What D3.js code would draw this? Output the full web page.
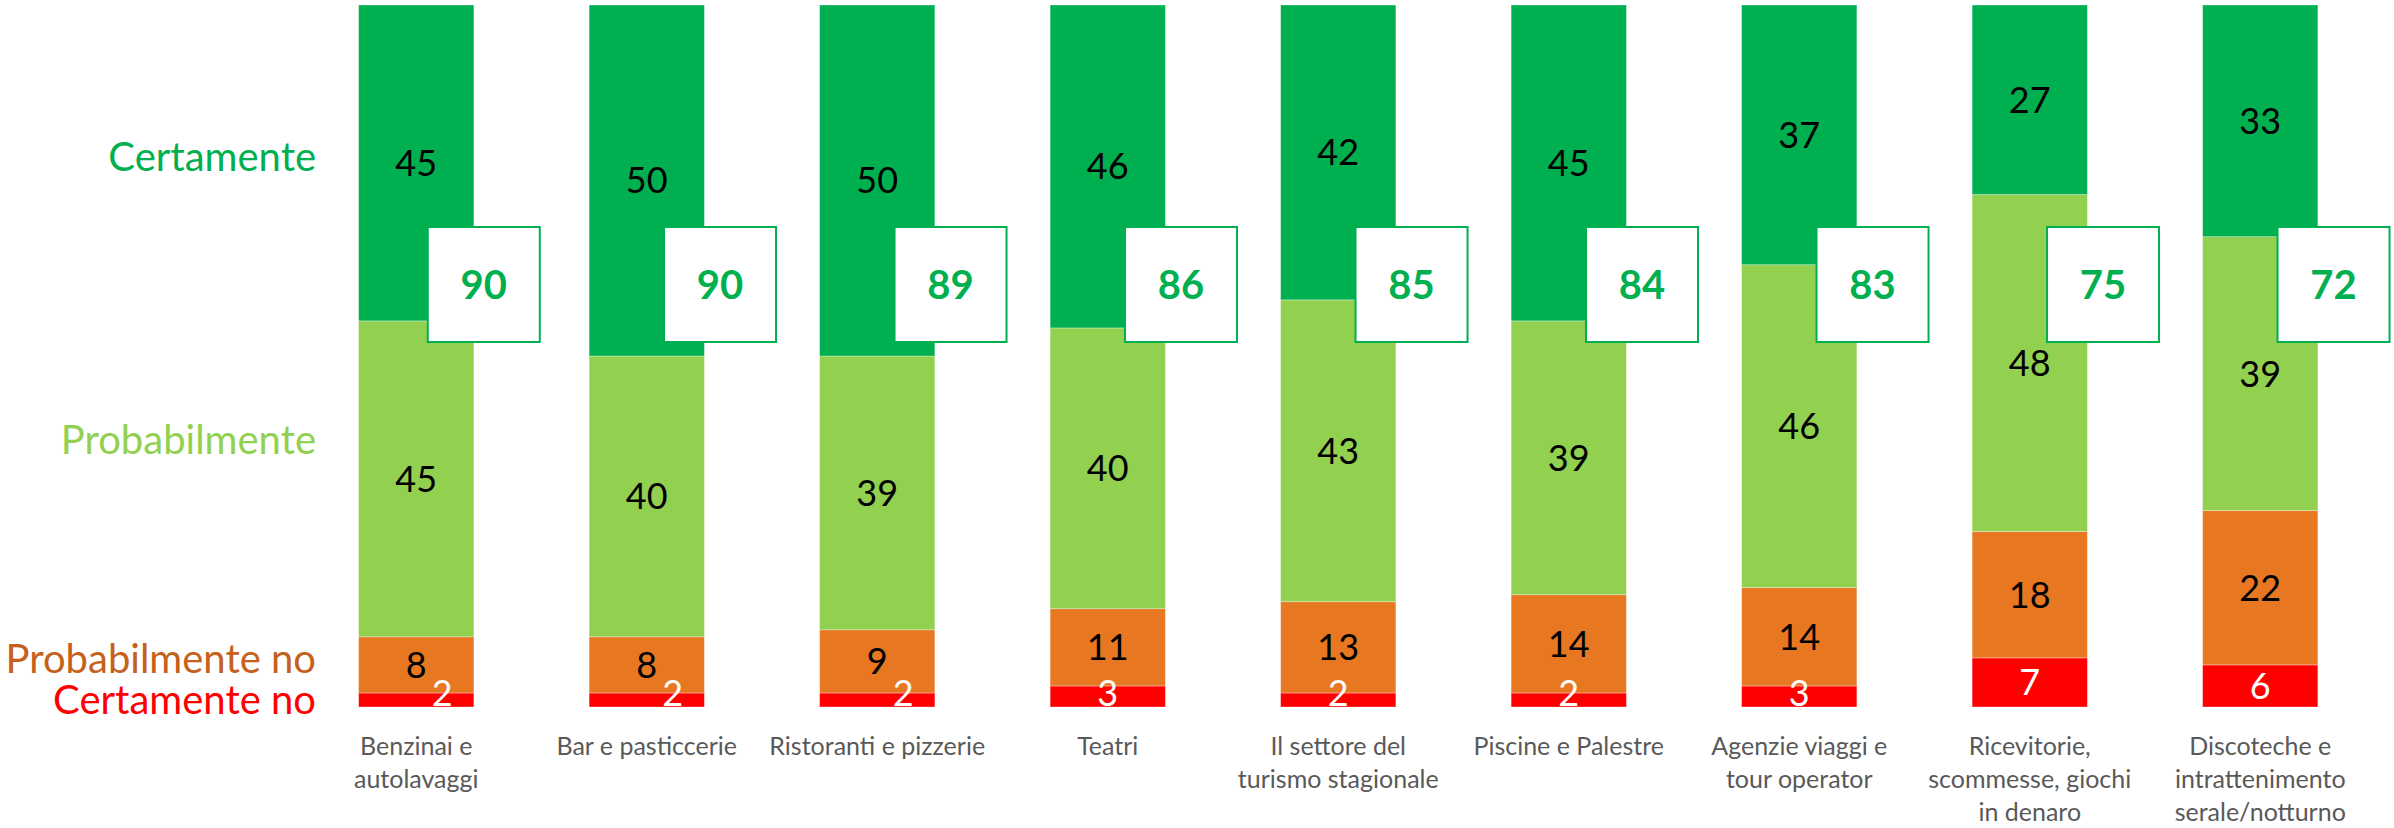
<!DOCTYPE html>
<html>
<head>
<meta charset="utf-8">
<script src="https://cdn.jsdelivr.net/npm/d3@7"></script>
<style>
  html, body { margin: 0; padding: 0; background: #ffffff; }
  svg { display: block; }
</style>
</head>
<body>
<div id="chart"></div>
<script>
// categorie (a capo con \n)
var categories = [
    'Benzinai e\nautolavaggi',
    'Bar e pasticcerie',
    'Ristoranti e pizzerie',
    'Teatri',
    'Il settore del\nturismo stagionale',
    'Piscine e Palestre',
    'Agenzie viaggi e\ntour operator',
    'Ricevitorie,\nscommesse, giochi\nin denaro',
    'Discoteche e\nintrattenimento\nserale/notturno'
];
var seriesNames = ['Certamente no', 'Probabilmente no', 'Probabilmente', 'Certamente'];
var certamenteNo     = [2, 2, 2, 3, 2, 2, 3, 7, 6];
var probabilmenteNo  = [8, 8, 9, 11, 13, 14, 14, 18, 22];
var probabilmente    = [45, 40, 39, 40, 43, 39, 46, 48, 39];
var certamente       = [45, 50, 50, 46, 42, 45, 37, 27, 33];

var _width = 2394;
var _height = 828;
var _top = 5, _bottom = 707;
var _font = 'Lato, "Open Sans", sans-serif';

var colSeries = ['#FF0000', '#E87722', '#92D050', '#00B050'];
var colLegend = ['#FF0000', '#C5611C', '#92D050', '#00B050'];
var colLabel = ['#ffffff', '#000000', '#000000', '#000000'];
var legendY = [700, 659, 440, 157];

var rows = categories.map(function (c, i) {
    return {
        cat: c,
        'Certamente no': certamenteNo[i],
        'Probabilmente no': probabilmenteNo[i],
        'Probabilmente': probabilmente[i],
        'Certamente': certamente[i]
    };
});

var stacked = d3.stack().keys(seriesNames)(rows);

var x = d3.scaleBand()
    .domain(categories)
    .range([301, 301 + 9 * 230.5])
    .paddingInner(0.5)
    .paddingOuter(0.25);

var y = d3.scaleLinear()
    .domain([0, 100])
    .range([_bottom, _top]);

var svg = d3.select('#chart').append('svg')
    .attr('width', _width)
    .attr('height', _height);

// barre impilate
var layers = svg.selectAll('g.layer')
    .data(stacked)
    .enter().append('g')
    .attr('class', 'layer')
    .attr('fill', function (d, i) { return colSeries[i]; });

layers.selectAll('rect')
    .data(function (d) { return d; })
    .enter().append('rect')
    .attr('x', function (d) { return x(d.data.cat); })
    .attr('width', x.bandwidth())
    .attr('y', function (d) { return y(d[1]); })
    .attr('height', function (d) { return y(d[0]) - y(d[1]); })
    .attr('stroke', '#ffffff')
    .attr('stroke-opacity', 0.4)
    .attr('stroke-width', 0.8);

// etichette dei valori
stacked.forEach(function (layer, li) {
    svg.append('g').selectAll('text')
        .data(layer)
        .enter().append('text')
        .attr('x', function (d, i) {
            var cx = x(d.data.cat) + x.bandwidth() / 2;
            // il 2 rosso scivola a destra quando l'arancione e' basso
            if (li === 0 && probabilmenteNo[i] < 10) cx += 26;
            return cx;
        })
        .attr('y', function (d) {
            var cy = (y(d[0]) + y(d[1])) / 2;
            if (li === 0) cy = Math.min(cy, _bottom - 14);
            return cy;
        })
        .attr('dy', '0.36em')
        .attr('text-anchor', 'middle')
        .attr('font-family', _font)
        .attr('font-size', 36)
        .attr('fill', colLabel[li])
        .text(function (d) { return d[1] - d[0]; });
});

// box con il totale (Certamente + Probabilmente)
var totals = categories.map(function (c, i) { return certamente[i] + probabilmente[i]; });
var boxW = 112, boxH = 115;
var boxTop = 227;
var boxes = svg.append('g').selectAll('g')
    .data(categories)
    .enter().append('g')
    .attr('transform', function (c, i) {
        var off = i === 0 ? 0.6 : 0.65;
        return 'translate(' + (x(c) + x.bandwidth() * off) + ',' + boxTop + ')';
    });
boxes.append('rect')
    .attr('width', boxW)
    .attr('height', boxH)
    .attr('fill', '#ffffff')
    .attr('stroke', '#00B050')
    .attr('stroke-width', 2);
boxes.append('text')
    .attr('x', boxW / 2)
    .attr('y', boxH / 2)
    .attr('dy', '0.36em')
    .attr('text-anchor', 'middle')
    .attr('font-family', _font)
    .attr('font-weight', 'bold')
    .attr('font-size', 40)
    .attr('fill', '#00B050')
    .text(function (c, i) { return totals[i]; });

// legenda a sinistra
svg.append('g').selectAll('text')
    .data(seriesNames)
    .enter().append('text')
    .attr('x', 316)
    .attr('y', function (d, i) { return legendY[i]; })
    .attr('dy', '0.36em')
    .attr('text-anchor', 'end')
    .attr('font-family', _font)
    .attr('font-size', 40)
    .attr('fill', function (d, i) { return colLegend[i]; })
    .text(function (d) { return d; });

// etichette categorie
var catLabels = svg.append('g').selectAll('text')
    .data(categories)
    .enter().append('text')
    .attr('x', function (c) { return x(c) + x.bandwidth() / 2; })
    .attr('y', 746)
    .attr('text-anchor', 'middle')
    .attr('font-family', _font)
    .attr('font-size', 25)
    .attr('fill', '#595959');
catLabels.each(function (c) {
    var t = d3.select(this);
    c.split('\n').forEach(function (line, k) {
        t.append('tspan')
            .attr('x', x(c) + x.bandwidth() / 2)
            .attr('y', 746 + k * 33)
            .attr('dy', '0.36em')
            .text(line);
    });
});
</script>
</body>
</html>
